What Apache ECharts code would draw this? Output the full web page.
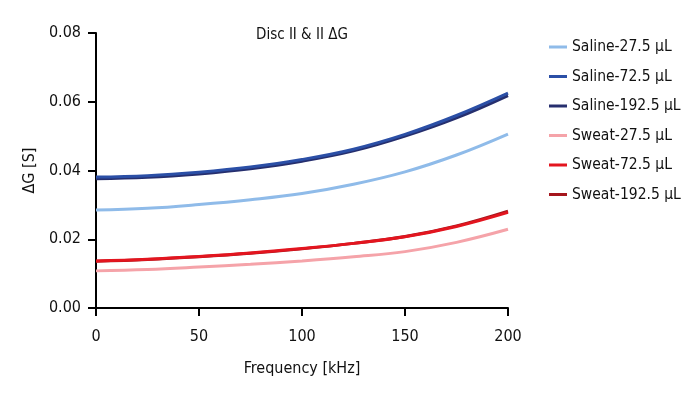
<!DOCTYPE html>
<html><head><meta charset="utf-8">
<script src="https://cdn.jsdelivr.net/npm/echarts@6/dist/echarts.min.js"></script>
<style>html,body{margin:0;padding:0;background:#fff}#c{width:700px;height:400px}</style>
</head><body><div id="c"></div>
<script>
const freq = [0, 25, 50, 75, 100, 125, 150, 175, 200];
const saline27 = [0.0285, 0.0290, 0.0301, 0.0315, 0.0333, 0.0360, 0.0396, 0.0445, 0.0506];
const saline72 = [0.0381, 0.0385, 0.0395, 0.0410, 0.0432, 0.0462, 0.0505, 0.0560, 0.0625];
const saline192 = [0.0376, 0.0380, 0.0390, 0.0405, 0.0427, 0.0457, 0.0500, 0.0553, 0.0618];
const sweat27 = [0.0108, 0.0112, 0.0119, 0.0127, 0.0137, 0.0149, 0.0164, 0.0191, 0.0229];
const sweat72 = [0.0137, 0.0142, 0.0150, 0.0160, 0.0173, 0.0188, 0.0207, 0.0237, 0.0278];
const sweat192 = [0.0136, 0.0141, 0.0149, 0.0159, 0.0172, 0.0188, 0.0208, 0.0239, 0.0282];
const seriesNames = ['Saline-27.5 μL','Saline-72.5 μL','Saline-192.5 μL','Sweat-27.5 μL','Sweat-72.5 μL','Sweat-192.5 μL'];
const seriesData = [saline27, saline72, saline192, sweat27, sweat72, sweat192];
const colors = ['#8fbbe9','#2b4fa6','#262f6e','#f5a3a9','#e3151f','#a5161d'];
const zOrder = [2, 3, 2, 2, 3, 2];
const yTicks = [0, 0.02, 0.04, 0.06, 0.08];
const xTicks = [0, 50, 100, 150, 200];

const FONT = "'DejaVu Sans Condensed',sans-serif";
const chart = echarts.init(document.getElementById('c'), null, {renderer:'canvas'});
chart.setOption({
  animation: false,
  color: colors,
  title: {
    text: 'Disc II & II ΔG', left: 251, top: 23,
    textStyle: {fontFamily: FONT, fontSize: 15, fontWeight: 'normal', color: '#111'}
  },
  legend: {
    orient: 'vertical', left: 544, top: 32,
    icon: 'rect', itemWidth: 18, itemHeight: 3, itemGap: 9.5,
    textStyle: {fontFamily: FONT, fontSize: 15.5, color: '#111', lineHeight: 20},
    data: seriesNames
  },
  grid: {left: 96, right: 192, top: 33, bottom: 92, containLabel: false},
  xAxis: {
    type: 'value', min: 0, max: 200, interval: 50,
    name: 'Frequency [kHz]', nameLocation: 'middle', nameGap: 53,
    nameTextStyle: {fontFamily: FONT, fontSize: 16, color: '#111'},
    axisLine: {lineStyle: {color: '#000', width: 2}},
    axisTick: {length: 8, lineStyle: {color: '#000', width: 2}},
    axisLabel: {fontFamily: FONT, fontSize: 16, color: '#111', margin: 21,
      formatter: v => xTicks.includes(v) ? String(v) : ''},
    splitLine: {show: false}
  },
  yAxis: {
    type: 'value', min: 0, max: 0.08, interval: 0.02,
    name: 'ΔG [S]', nameLocation: 'middle', nameGap: 49, nameRotate: 90,
    nameTextStyle: {fontFamily: FONT, fontSize: 16, color: '#111'},
    axisLine: {show: true, lineStyle: {color: '#000', width: 2}},
    axisTick: {show: true, length: 8, lineStyle: {color: '#000', width: 2}},
    axisLabel: {fontFamily: FONT, fontSize: 16, color: '#111', margin: 15,
      formatter: v => { const t = yTicks.find(y => Math.abs(y - v) < 1e-9); return t === undefined ? '' : t.toFixed(2); }},
    splitLine: {show: false}
  },
  series: seriesNames.map((n, i) => ({
    name: n, type: 'line', smooth: 0.4, showSymbol: false, symbol: 'none', z: zOrder[i],
    lineStyle: {width: 3, color: colors[i]},
    itemStyle: {color: colors[i]},
    data: freq.map((f, j) => [f, seriesData[i][j]])
  }))
});
</script></body></html>
